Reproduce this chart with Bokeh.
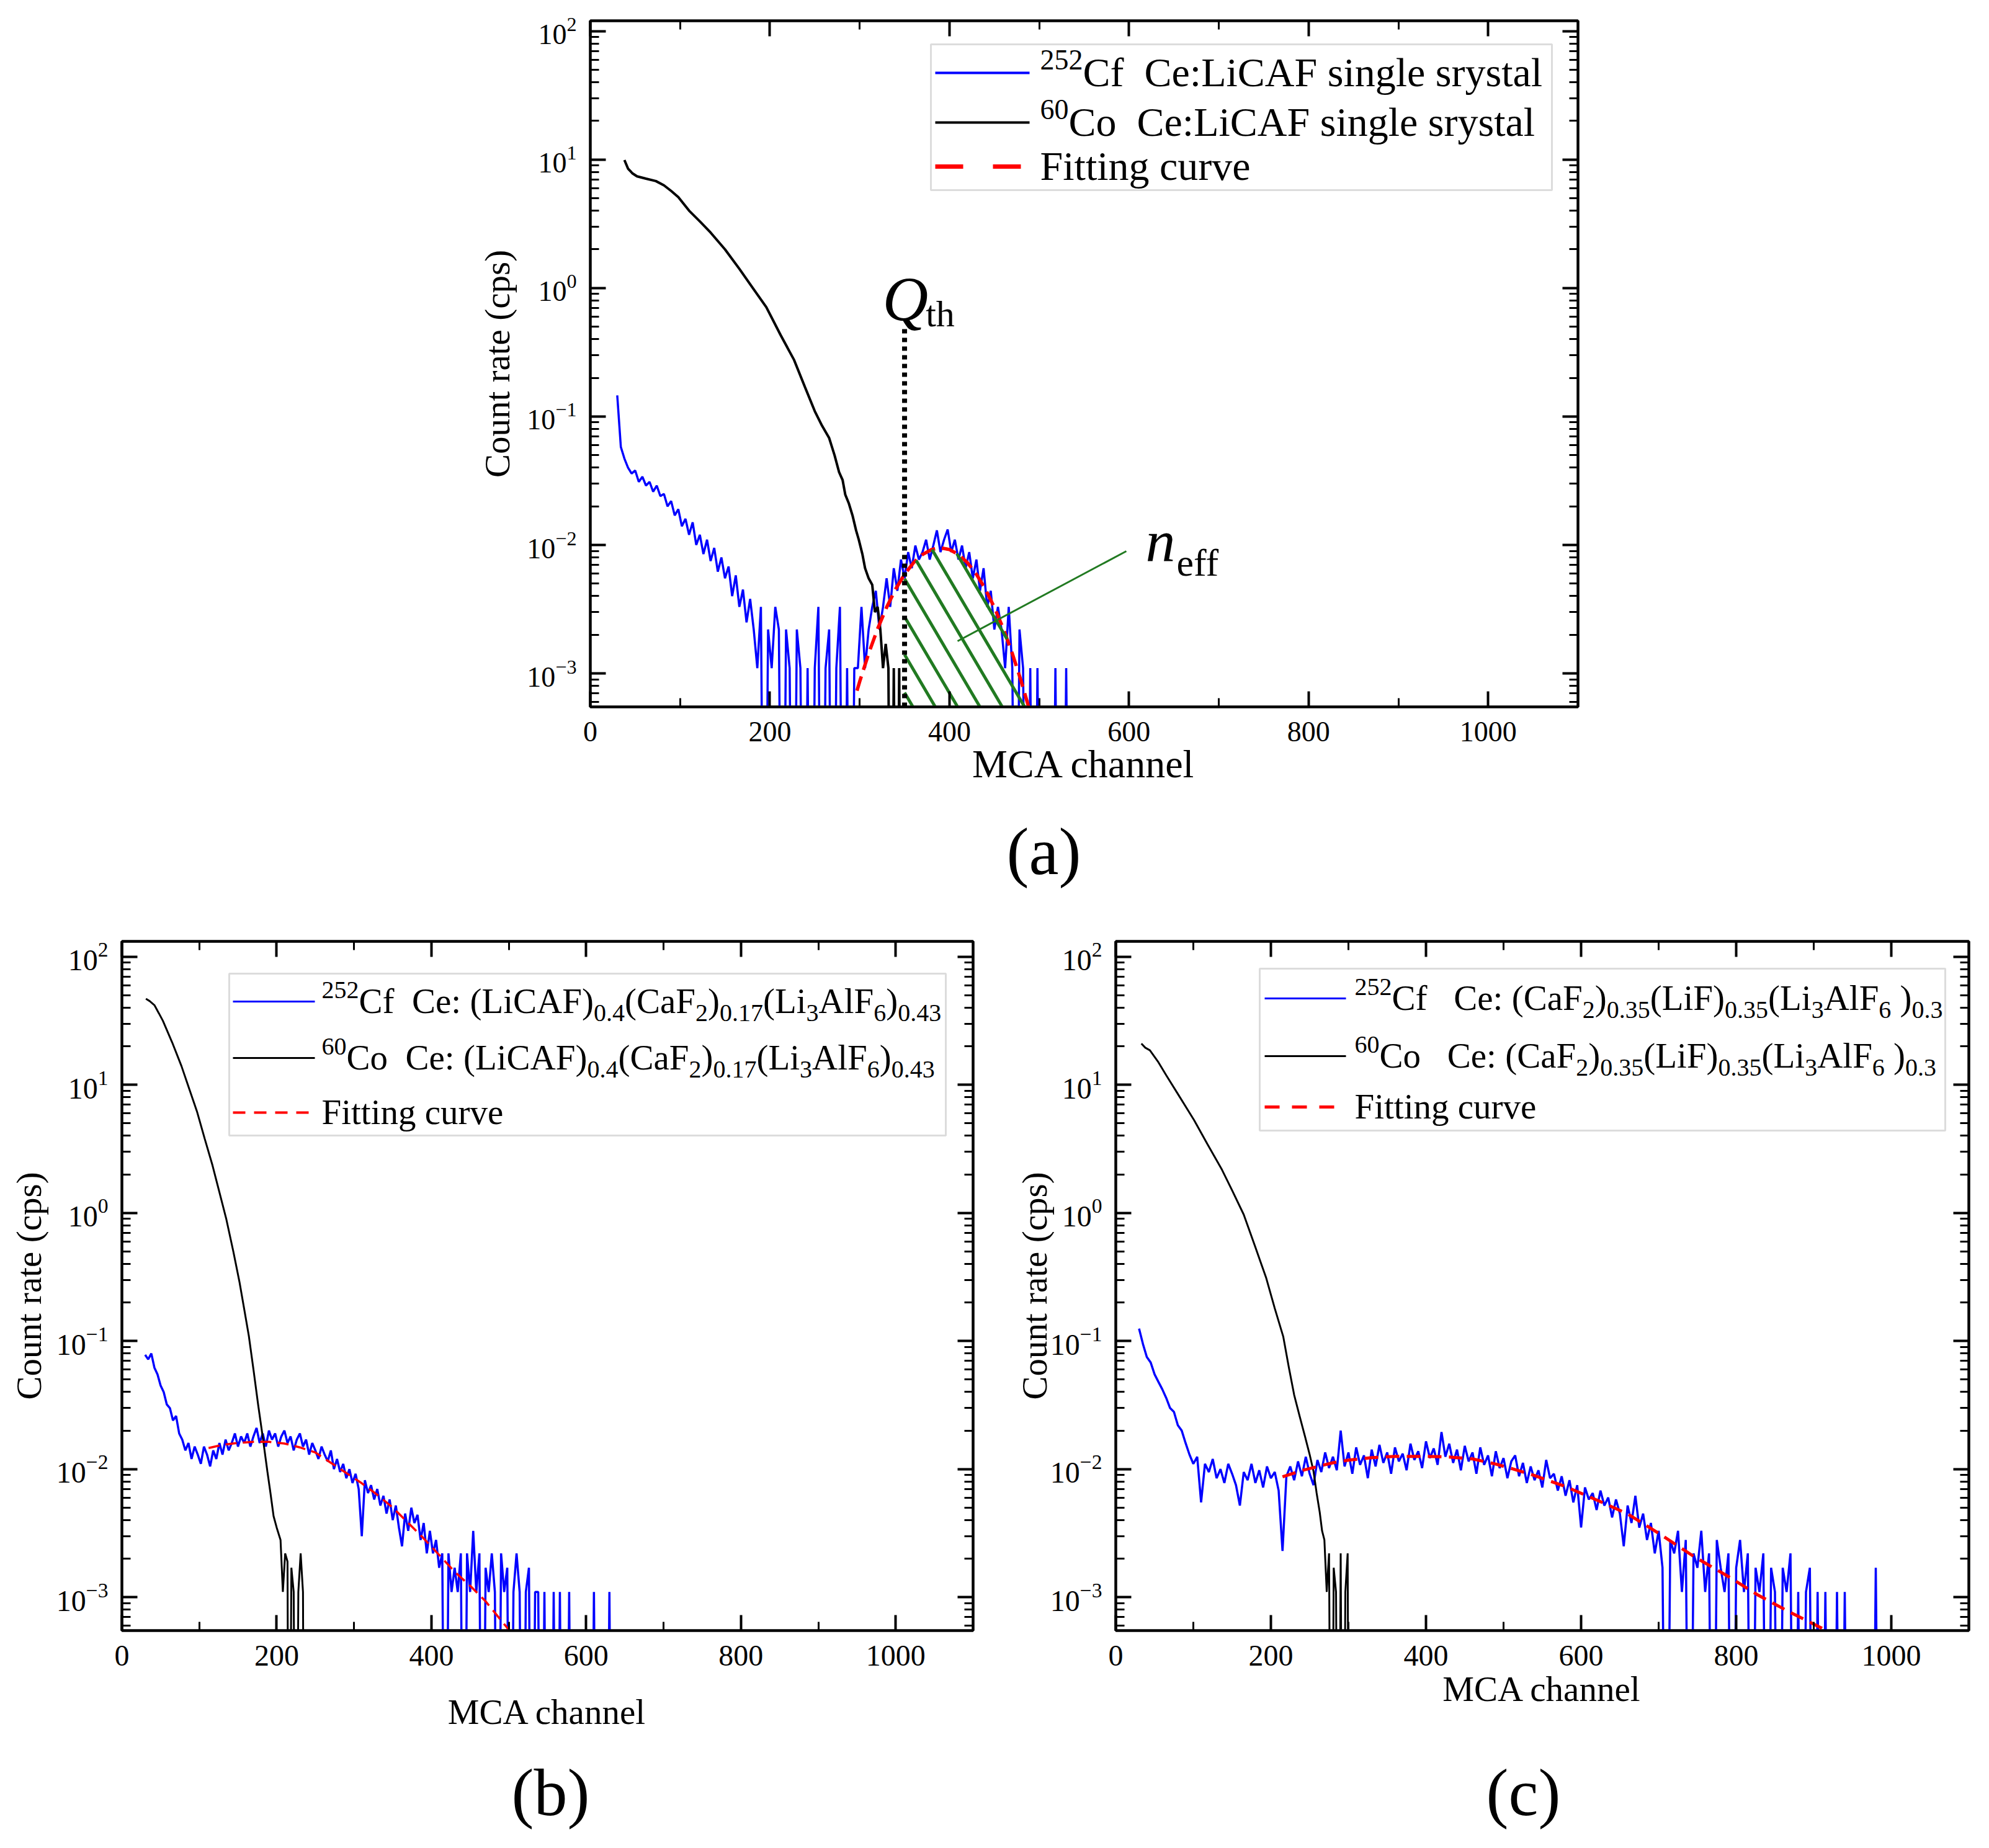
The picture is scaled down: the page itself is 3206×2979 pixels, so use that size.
import numpy as np
from bokeh.plotting import figure
from bokeh.models import (Range1d, FixedTicker, LinearAxis, LogAxis, CustomJSTickFormatter,
                          LogTickFormatter, ColumnDataSource, BoxAnnotation, Spacer)
from bokeh.layouts import row, column
from bokeh.core.properties import value
from bokeh.embed import file_html
from bokeh.resources import INLINE

FONT = "Liberation Serif"

# ---------------- data ----------------
X_RANGE = (0, 1100)
X_MAJOR = [0, 200, 400, 600, 800, 1000]
X_MINOR = [100, 300, 500, 700, 900, 1100]
Y_MAJOR = [1e-3, 1e-2, 1e-1, 1e0, 1e1, 1e2]

# panel (a): Ce:LiCAF single crystal
BLUE_A_X0, BLUE_A_STEP = 30, 4
BLUE_A_Y = [0.146, 0.058, 0.047, 0.040, 0.036, 0.038, 0.031, 0.034, 0.029, 0.031,
            0.026, 0.029, 0.024, 0.025, 0.020, 0.022, 0.017, 0.019, 0.014, 0.016,
            0.012, 0.015, 0.010, 0.012, 0.0085, 0.011, 0.0075, 0.0095, 0.0062, 0.0080,
            0.0055, 0.0068, 0.0040, 0.0058, 0.0033, 0.0045, 0.0025, 0.0038, 0.0022, 0.0011,
            0.0033, 0, 0.0022, 0.0011, 0.0033, 0.0022, 0, 0.0022, 0.0011, 0,
            0.0022, 0.0011, 0, 0.0011, 0, 0.0011, 0.0033, 0, 0.0011, 0.0022,
            0, 0.0011, 0.0033, 0, 0.0011, 0, 0.0011, 0.0011, 0.0033, 0.0011,
            0.0022, 0.0033, 0.0044, 0.0022, 0.0033, 0.0055, 0.0033, 0.0066, 0.0044, 0.0077,
            0.0055, 0.0088, 0.0066, 0.0099, 0.0077, 0.0088, 0.011, 0.0077, 0.0099, 0.013,
            0.0088, 0.011, 0.0132, 0.0088, 0.011, 0.0077, 0.0099, 0.0066, 0.0088, 0.0055,
            0.0077, 0.0044, 0.0066, 0.0033, 0.0044, 0.0022, 0.0033, 0.0022, 0.0011, 0.0033,
            0.0011, 0, 0.0022, 0.0011, 0, 0.0011, 0, 0.0011, 0, 0,
            0, 0, 0.0011, 0, 0, 0.0011, 0]
BLACK_A_X = [38, 42, 47, 52, 62, 73, 82, 90, 98, 110, 122, 134, 150, 166, 181, 196, 212, 227,
             239, 250, 258, 266, 272, 277, 281, 284, 288, 292, 296, 299, 303, 306, 310, 314,
             317, 320, 323, 326, 329, 332, 335, 338, 341, 344, 347]
BLACK_A_Y = [9.9, 8.5, 7.8, 7.4, 7.1, 6.8, 6.3, 5.7, 5.1, 4.0, 3.3, 2.7, 2.0, 1.41, 1.0, 0.71,
             0.43, 0.275, 0.17, 0.11, 0.085, 0.068, 0.05, 0.037, 0.032, 0.0246, 0.021, 0.017,
             0.013, 0.011, 0.0085, 0.0066, 0.0055, 0.0049, 0.003, 0.0033, 0.0022, 0.0011,
             0.0017, 0.0011, 0, 0.0011, 0, 0.0011, 0]
FIT_A_X = [297, 300, 310, 320, 330, 340, 350, 360, 370, 380, 390, 400, 410, 420, 430, 440,
           450, 460, 470, 480, 488]
FIT_A_Y = [7.35e-4, 8.65e-4, 1.43e-3, 2.23e-3, 3.27e-3, 4.53e-3, 5.92e-3, 7.28e-3, 8.44e-3,
           9.22e-3, 9.5e-3, 9.22e-3, 8.44e-3, 7.28e-3, 5.92e-3, 4.53e-3, 3.27e-3, 2.23e-3,
           1.43e-3, 8.65e-4, 5.55e-4]
Q_TH = 350          # threshold channel
Q_TH_TOP = 0.49     # top of the dotted threshold line

# panel (b): Ce:(LiCAF)0.4(CaF2)0.17(Li3AlF6)0.43
BLUE_B_X0, BLUE_B_STEP = 30, 4
BLUE_B_Y = [0.078, 0.072, 0.080, 0.062, 0.055, 0.045, 0.040, 0.032, 0.030, 0.024,
            0.026, 0.019, 0.017, 0.014, 0.016, 0.012, 0.015, 0.013, 0.011, 0.015,
            0.013, 0.0105, 0.014, 0.012, 0.016, 0.013, 0.017, 0.014, 0.016, 0.019,
            0.015, 0.018, 0.016, 0.019, 0.015, 0.018, 0.021, 0.016, 0.019, 0.015,
            0.020, 0.017, 0.019, 0.015, 0.018, 0.020, 0.016, 0.018, 0.014, 0.017,
            0.019, 0.015, 0.017, 0.013, 0.016, 0.014, 0.012, 0.015, 0.013, 0.0115,
            0.014, 0.010, 0.012, 0.0095, 0.011, 0.0085, 0.010, 0.0078, 0.0092, 0.007,
            0.0030, 0.0082, 0.0065, 0.0075, 0.0058, 0.007, 0.0052, 0.0062, 0.0045, 0.0058,
            0.0040, 0.0052, 0.0035, 0.0025, 0.0045, 0.0033, 0.0050, 0.0038, 0.0044, 0.0028,
            0.0038, 0.0022, 0.0033, 0.0022, 0.0028, 0.0017, 0.0022, 0, 0.0022, 0.0011,
            0.0017, 0.0011, 0.0022, 0, 0.0022, 0.0011, 0.0033, 0.0011, 0.0022, 0,
            0.0017, 0.0011, 0.0022, 0.0011, 0, 0.0022, 0.0011, 0.0017, 0, 0.0011,
            0.0022, 0.0011, 0, 0.0011, 0.0017, 0, 0.0011, 0.0011, 0, 0.0011,
            0, 0, 0.0011, 0, 0.0011, 0, 0, 0.0011, 0, 0,
            0, 0, 0, 0, 0, 0.0011, 0, 0, 0, 0,
            0.0011, 0]
BLACK_B_X = [31, 36, 42, 48, 53, 65, 77, 87, 97, 107, 117, 126, 135, 144, 152, 158, 164, 170,
             176, 182, 188, 192, 196, 200, 205, 208, 211, 214, 216, 219, 222, 225, 228, 231,
             234, 236]
BLACK_B_Y = [47, 45, 41.9, 36, 31.6, 21.4, 14, 9.3, 6.2, 3.8, 2.36, 1.45, 0.89, 0.50, 0.288,
             0.178, 0.11, 0.060, 0.032, 0.0178, 0.0096, 0.0065, 0.0043, 0.0035, 0.0028,
             0.0011, 0.0022, 0.0019, 0, 0.0017, 0.0011, 0, 0.0011, 0.0022, 0.0011, 0]
FIT_B_X = [112, 130, 150, 170, 190, 210, 230, 250, 270, 290, 310, 330, 350, 370, 390, 410,
           430, 450, 470, 490, 502]
FIT_B_Y = [0.01462, 0.01549, 0.01603, 0.01633, 0.01633, 0.01585, 0.01479, 0.01349, 0.01122,
           0.00933, 0.00776, 0.00631, 0.00501, 0.0038, 0.00288, 0.00214, 0.00158, 0.00123,
           0.00093, 0.00066, 0.00054]

# panel (c): Ce:(CaF2)0.35(LiF)0.35(Li3AlF6)0.3
BLUE_C_X0, BLUE_C_STEP = 30, 5
BLUE_C_Y = [0.125, 0.095, 0.075, 0.068, 0.055, 0.048, 0.042, 0.036, 0.030, 0.028,
            0.022, 0.020, 0.016, 0.013, 0.011, 0.0125, 0.0055, 0.011, 0.0095, 0.012,
            0.0085, 0.010, 0.0078, 0.011, 0.0092, 0.0075, 0.0052, 0.0095, 0.0082, 0.011,
            0.0078, 0.0098, 0.0072, 0.0105, 0.0085, 0.0095, 0.0068, 0.0023, 0.0088, 0.0105,
            0.0082, 0.0115, 0.0088, 0.0125, 0.0092, 0.0075, 0.0118, 0.0095, 0.0135, 0.0102,
            0.0125, 0.0098, 0.020, 0.0105, 0.0135, 0.0092, 0.0148, 0.0108, 0.0128, 0.0085,
            0.0142, 0.0105, 0.0155, 0.0112, 0.0135, 0.0092, 0.0148, 0.0115, 0.0132, 0.0098,
            0.0158, 0.0118, 0.0138, 0.0102, 0.0165, 0.0122, 0.0145, 0.0108, 0.0195, 0.0125,
            0.0158, 0.0112, 0.0142, 0.0098, 0.0152, 0.0115, 0.0135, 0.0092, 0.0148, 0.0108,
            0.0128, 0.0088, 0.0138, 0.0102, 0.0122, 0.0085, 0.0115, 0.0128, 0.0088, 0.0112,
            0.0078, 0.0105, 0.0082, 0.0098, 0.0072, 0.0118, 0.0085, 0.0092, 0.0068, 0.0088,
            0.0062, 0.0082, 0.0055, 0.0075, 0.0035, 0.0072, 0.0058, 0.0065, 0.0048, 0.0068,
            0.0052, 0.0060, 0.0042, 0.0058, 0.0045, 0.0025, 0.0052, 0.0038, 0.0062, 0.0035,
            0.0045, 0.0028, 0.0038, 0.0022, 0.0033, 0.0017, 0, 0.0028, 0.0022, 0.0033,
            0.0011, 0.0028, 0, 0.0022, 0.0017, 0.0033, 0.0011, 0.0022, 0, 0.0028,
            0.0017, 0.0011, 0.0022, 0, 0.0017, 0.0028, 0.0011, 0.0022, 0, 0.0017,
            0.0011, 0.0022, 0, 0.0017, 0.0011, 0, 0.0017, 0.0011, 0.0022, 0,
            0.0011, 0, 0.0011, 0.0017, 0, 0.0011, 0, 0.0011, 0, 0,
            0.0011, 0, 0.0011, 0, 0, 0, 0, 0, 0, 0,
            0.0017, 0]
BLACK_C_X = [33, 38, 44, 55, 65, 80, 101, 118, 137, 150, 165, 180, 194, 205, 216, 223, 230,
             237, 244, 250, 255, 259, 263, 266, 269, 272, 275, 278, 281, 284, 287, 290, 293,
             296, 299, 301]
BLACK_C_Y = [21, 19.5, 18.6, 15, 11.9, 8.5, 5.3, 3.46, 2.17, 1.5, 0.97, 0.54, 0.31, 0.18,
             0.108, 0.063, 0.038, 0.026, 0.018, 0.013, 0.0096, 0.0065, 0.0046, 0.0033, 0.0028,
             0.0011, 0.0022, 0, 0.0017, 0.0011, 0, 0.0022, 0, 0.0011, 0.0022, 0]
FIT_C_X = [215, 240, 260, 280, 300, 330, 360, 395, 430, 460, 490, 510, 540, 580, 620, 660,
           700, 745, 790, 827, 870, 909, 915]
FIT_C_Y = [0.00871, 0.00977, 0.01047, 0.01122, 0.01175, 0.0123, 0.01259, 0.01259, 0.01245,
           0.01202, 0.01096, 0.01012, 0.00891, 0.00731, 0.00575, 0.00447, 0.00316, 0.00209,
           0.00145, 0.00105, 0.00076, 0.00058, 0.00055]

# ---------------- text metrics (Times / Liberation Serif, per 1000 em) ----------------
TW = {' ': 250, '(': 333, ')': 333, '.': 250, ':': 278, '0': 500, '1': 500, '2': 500,
      '3': 500, '4': 500, '5': 500, '6': 500, '7': 500, '8': 500, '9': 500,
      'A': 722, 'C': 667, 'F': 556, 'L': 611, 'Q': 722, 'a': 444, 'c': 444, 'e': 444,
      'f': 333, 'g': 500, 'h': 500, 'i': 278, 'l': 278, 'n': 500, 'o': 500, 'r': 333,
      's': 389, 't': 278, 'u': 500, 'v': 500, 'y': 500}
BASE_FIX = 0.31   # renderer draws "alphabetic" text this many em lower
PAGE_W = 3200


def tw(s, size):
    return sum(TW.get(ch, 500) for ch in s) * size / 1000.0


class Frame:
    def __init__(self, fw, fh, ly):
        self.fw, self.fh, self.ly0, self.ly1 = fw, fh, ly[0], ly[1]

    def x(self, px):
        return X_RANGE[0] + px / self.fw * (X_RANGE[1] - X_RANGE[0])

    def y(self, py):
        return 10 ** (self.ly1 - py / self.fh * (self.ly1 - self.ly0))

    def px(self, x):
        return (x - X_RANGE[0]) / (X_RANGE[1] - X_RANGE[0]) * self.fw

    def py(self, y):
        return (self.ly1 - np.log10(y)) / (self.ly1 - self.ly0) * self.fh


def style_axis(ax, tick_size="46px", label_size="57px", mirror=False):
    ax.axis_line_width = 4
    ax.axis_line_color = "black"
    ax.major_tick_in = 25
    ax.major_tick_out = 0
    ax.major_tick_line_width = 4
    ax.minor_tick_in = 14
    ax.minor_tick_out = 0
    ax.minor_tick_line_width = 3
    ax.major_label_text_font = FONT
    ax.major_label_text_color = "black"
    if mirror:
        ax.major_label_text_font_size = "1px"
        ax.major_label_standoff = 0
        ax.formatter = CustomJSTickFormatter(code="return ''")
    else:
        ax.major_label_text_font_size = tick_size
    ax.axis_label_text_font = FONT
    ax.axis_label_text_font_size = label_size
    ax.axis_label_text_font_style = "normal"
    ax.axis_label_text_color = "black"


def add_texts(p, items, italic=False, align="left"):
    if not items:
        return
    src = ColumnDataSource(dict(x=[i[0] for i in items], y=[i[1] for i in items],
                                text=[i[2] for i in items], size=[i[3] for i in items]))
    p.text(x="x", y="y", text="text", text_font_size="size", source=src,
           text_font=value(FONT), text_font_style="italic" if italic else "normal",
           text_baseline="alphabetic", text_align=align, text_color="black")


def put(fr, items, x_px, base_py, size, txt):
    items.append((fr.x(x_px), fr.y(base_py - BASE_FIX * size), txt, "%dpx" % round(size)))


def rich(fr, items, x_px, base_py, size, small, segments):
    cur = x_px
    for txt, kind in segments:
        sz = small if kind in ("sup", "sub") else size
        lead = len(txt) - len(txt.lstrip(" "))
        body = txt.strip(" ")
        by = base_py
        if kind == "sup":
            by = base_py - 0.40 * size
        elif kind == "sub":
            by = base_py + 0.25 * size
        if body:
            put(fr, items, cur + tw(" " * lead, sz), by, sz, body)
        cur += tw(txt, sz)


def legend(p, fr, spec):
    l, t, r, b = spec["box"]
    p.add_layout(BoxAnnotation(left=fr.x(l), right=fr.x(r), top=fr.y(t), bottom=fr.y(b),
                               fill_color="white", fill_alpha=1.0, line_color="#8a8a8a",
                               line_width=3, level="underlay"))
    x0, x1 = spec["sample"]
    items = []
    for (rowy, color, width, dash), segs in zip(spec["rows"], spec["labels"]):
        p.line([fr.x(x0), fr.x(x1)], [fr.y(rowy), fr.y(rowy)], line_color=color,
               line_width=width, line_dash=dash)
        rich(fr, items, spec["text_x"], rowy + 0.30 * spec["size"], spec["size"],
             spec["small"], segs)
    add_texts(p, items)


def hatch(fr, fx, fy, xq, spacing, slope, first):
    cpx = np.array([fr.px(v) for v in fx])
    cpy = np.array([fr.py(v) for v in fy])
    qpx = fr.px(xq)
    H = fr.fh
    xs0, ys0, xs1, ys1 = [], [], [], []
    bpos = qpx + first
    while bpos < cpx[-1] + H / slope:
        lo = max(qpx, bpos - H / slope, cpx[0])
        hi = min(bpos, cpx[-1])
        if hi > lo:
            sx = np.linspace(lo, hi, 800)
            ly = H - slope * (bpos - sx)
            cy = np.interp(sx, cpx, cpy)
            idx = np.where(ly >= cy)[0]
            if len(idx):
                runs = np.split(idx, np.where(np.diff(idx) > 1)[0] + 1)
                for rr in runs:
                    i0, i1 = rr[0], rr[-1]
                    xs0.append(fr.x(sx[i0])); ys0.append(fr.y(ly[i0]))
                    xs1.append(fr.x(sx[i1])); ys1.append(fr.y(min(ly[i1], H - 0.01)))
        bpos += spacing
    return xs0, ys0, xs1, ys1


def floor0(v):
    a = np.asarray(v, dtype=float)
    return np.where(a > 0, a, 1e-6)


def build(spec):
    fw, fh = spec["fw"], spec["fh"]
    fr = Frame(fw, fh, spec["ly"])
    p = figure(width=spec["mbl"] + fw + spec["mbr"], height=spec["mbt"] + fh + spec["mbb"],
               x_range=Range1d(*X_RANGE), y_range=Range1d(10 ** spec["ly"][0], 10 ** spec["ly"][1]),
               y_axis_type="log", output_backend="svg", toolbar_location=None,
               min_border_left=spec["mbl"], min_border_right=spec["mbr"],
               min_border_top=spec["mbt"], min_border_bottom=spec["mbb"],
               background_fill_color="white", border_fill_color="white")
    p.grid.visible = False
    p.outline_line_color = "black"
    p.outline_line_width = 4
    ly0, ly1 = spec["ly"]
    yminor = [k * 10.0 ** d for d in range(-4, 3) for k in range(2, 10)
              if ly0 <= np.log10(k * 10.0 ** d) <= ly1]
    xt = FixedTicker(ticks=X_MAJOR, minor_ticks=X_MINOR)
    yt = FixedTicker(ticks=Y_MAJOR, minor_ticks=yminor)
    xa = p.xaxis[0]
    xa.ticker = xt
    style_axis(xa, spec["tick"], spec["xlab"])
    xa.major_label_standoff = 24
    xa.axis_label = "MCA channel"
    xa.axis_label_standoff = spec["xls"]
    ya = p.yaxis[0]
    ya.ticker = yt
    ya.formatter = LogTickFormatter()
    style_axis(ya, spec["tick"], spec["ylab"])
    ya.major_label_standoff = 22
    ya.axis_label = "Count rate (cps)"
    ya.axis_label_standoff = spec["yls"]
    top = LinearAxis(ticker=xt)
    style_axis(top, mirror=True)
    p.add_layout(top, "above")
    right = LogAxis(ticker=yt)
    style_axis(right, mirror=True)
    p.add_layout(right, "right")
    return p, fr


def tag_strip(height, tags, size=108):
    """A bare strip (pixel coordinates) carrying the panel tags (a), (b), (c)."""
    p = figure(width=PAGE_W, height=height, x_range=Range1d(0, PAGE_W), y_range=Range1d(0, height),
               min_border=0, x_axis_location=None, y_axis_location=None,
               toolbar_location=None, output_backend="svg", outline_line_color=None,
               background_fill_color="white", border_fill_color="white")
    p.grid.visible = False
    items = []
    for txt, cx, cy in tags:   # cx, cy: centre of the tag, pixels from the strip's top-left
        base = cy + 0.235 * size - BASE_FIX * size
        items.append((cx, height - base, txt, "%dpx" % size))
    add_texts(p, items, align="center")
    return p


# ---------------- panel (a) ----------------
SA = dict(fw=1592, fh=1106, ly=(-3.26, 2.08), mbl=251, mbr=107, mbt=33, mbb=160,
          tick="46px", xlab="64px", ylab="57px", xls=-2, yls=13)
pa, fa = build(SA)
bx = BLUE_A_X0 + BLUE_A_STEP * np.arange(len(BLUE_A_Y))
pa.line(bx, floor0(BLUE_A_Y), line_color="#0000ff", line_width=3.5)
pa.line(BLACK_A_X, floor0(BLACK_A_Y), line_color="black", line_width=4)
pa.line(FIT_A_X, FIT_A_Y, line_color="#ff0000", line_width=5.5, line_dash="24 11")
hx0, hy0, hx1, hy1 = hatch(fa, FIT_A_X, FIT_A_Y, Q_TH, 36, 1.7, 13.5)
pa.segment(hx0, hy0, hx1, hy1, line_color="#217a21", line_width=5)
pa.segment([Q_TH], [10 ** SA["ly"][0]], [Q_TH], [Q_TH_TOP], line_color="black",
           line_width=8, line_dash="7 7")
pa.segment([fa.x(864)], [fa.y(855)], [fa.x(592)], [fa.y(1000)], line_color="#217a21", line_width=3)
ann_i, ann_n = [], []
put(fa, ann_i, 471, 481, 102, "Q")
put(fa, ann_n, 471 + tw("Q", 102) - 4, 491, 60, "th")
put(fa, ann_i, 895, 869, 96, "n")
put(fa, ann_n, 895 + 50, 893, 62, "eff")
add_texts(pa, ann_i, italic=True)
add_texts(pa, ann_n)
legend(pa, fa, dict(
    box=(549, 38, 1550, 273), sample=(556, 708), text_x=725, size=66, small=46,
    rows=[(84, "#0000ff", 4, "solid"), (164, "black", 4, "solid"), (235, "#ff0000", 7, "45 48")],
    labels=[[("252", "sup"), ("Cf", "n"), ("  Ce:LiCAF single srystal", "n")],
            [("60", "sup"), ("Co", "n"), ("  Ce:LiCAF single srystal", "n")],
            [("Fitting curve", "n")]]))
A_H = SA["mbt"] + SA["fh"] + SA["mbb"]          # 1299

# ---------------- panel (b) ----------------
SB = dict(fw=1372, fh=1111, ly=(-3.26, 2.12), mbl=196, mbr=52, mbt=37, mbb=190,
          tick="48px", xlab="57px", ylab="57px", xls=40, yls=10)
pb, fb = build(SB)
bx = BLUE_B_X0 + BLUE_B_STEP * np.arange(len(BLUE_B_Y))
pb.line(bx, floor0(BLUE_B_Y), line_color="#0000ff", line_width=3.5)
pb.line(BLACK_B_X, floor0(BLACK_B_Y), line_color="black", line_width=3)
pb.line(FIT_B_X, FIT_B_Y, line_color="#ff0000", line_width=3.5, line_dash="18 10")
legend(pb, fb, dict(
    box=(173, 52, 1328, 313), sample=(179, 311), text_x=322, size=57, small=40,
    rows=[(97, "#0000ff", 3, "solid"), (188, "black", 3, "solid"), (276, "#ff0000", 4, "20 14")],
    labels=[[("252", "sup"), ("Cf", "n"), ("  Ce: (LiCAF)", "n"), ("0.4", "sub"), ("(CaF", "n"),
             ("2", "sub"), (")", "n"), ("0.17", "sub"), ("(Li", "n"), ("3", "sub"), ("AlF", "n"),
             ("6", "sub"), (")", "n"), ("0.43", "sub")],
            [("60", "sup"), ("Co", "n"), ("  Ce: (LiCAF)", "n"), ("0.4", "sub"), ("(CaF", "n"),
             ("2", "sub"), (")", "n"), ("0.17", "sub"), ("(Li", "n"), ("3", "sub"), ("AlF", "n"),
             ("6", "sub"), (")", "n"), ("0.43", "sub")],
            [("Fitting curve", "n")]]))

# ---------------- panel (c) ----------------
SC = dict(fw=1375, fh=1111, ly=(-3.26, 2.12), mbl=178, mbr=25, mbt=37, mbb=190,
          tick="48px", xlab="57px", ylab="57px", xls=3, yls=-9)
pc, fc = build(SC)
bx = BLUE_C_X0 + BLUE_C_STEP * np.arange(len(BLUE_C_Y))
pc.line(bx, floor0(BLUE_C_Y), line_color="#0000ff", line_width=3.5)
pc.line(BLACK_C_X, floor0(BLACK_C_Y), line_color="black", line_width=3)
pc.line(FIT_C_X, FIT_C_Y, line_color="#ff0000", line_width=5, line_dash="22 12")
legend(pc, fc, dict(
    box=(232, 44, 1337, 305), sample=(240, 371), text_x=385, size=57, small=40,
    rows=[(92, "#0000ff", 3, "solid"), (185, "black", 3, "solid"), (267, "#ff0000", 5, "24 20")],
    labels=[[("252", "sup"), ("Cf", "n"), ("   Ce: (CaF", "n"), ("2", "sub"), (")", "n"),
             ("0.35", "sub"), ("(LiF)", "n"), ("0.35", "sub"), ("(Li", "n"), ("3", "sub"),
             ("AlF", "n"), ("6", "sub"), (" )", "n"), ("0.3", "sub")],
            [("60", "sup"), ("Co", "n"), ("   Ce: (CaF", "n"), ("2", "sub"), (")", "n"),
             ("0.35", "sub"), ("(LiF)", "n"), ("0.35", "sub"), ("(Li", "n"), ("3", "sub"),
             ("AlF", "n"), ("6", "sub"), (" )", "n"), ("0.3", "sub")],
            [("Fitting curve", "n")]]))
BC_H = SB["mbt"] + SB["fh"] + SB["mbb"]         # 1338

# ---------------- tag strips ----------------
STRIP1_TOP, STRIP1_H = A_H, 1480 - A_H
STRIP2_TOP = 1480 + BC_H
STRIP2_H = 2976 - STRIP2_TOP
s1 = tag_strip(STRIP1_H, [("(a)", 1682, 1380 - STRIP1_TOP)])
s2 = tag_strip(STRIP2_H, [("(b)", 887, 2897 - STRIP2_TOP), ("(c)", 2455, 2897 - STRIP2_TOP)])

layout = column(row(Spacer(width=700, height=10), pa), s1, row(pb, pc), s2)
open("out.html", "w").write(file_html(layout, INLINE))
